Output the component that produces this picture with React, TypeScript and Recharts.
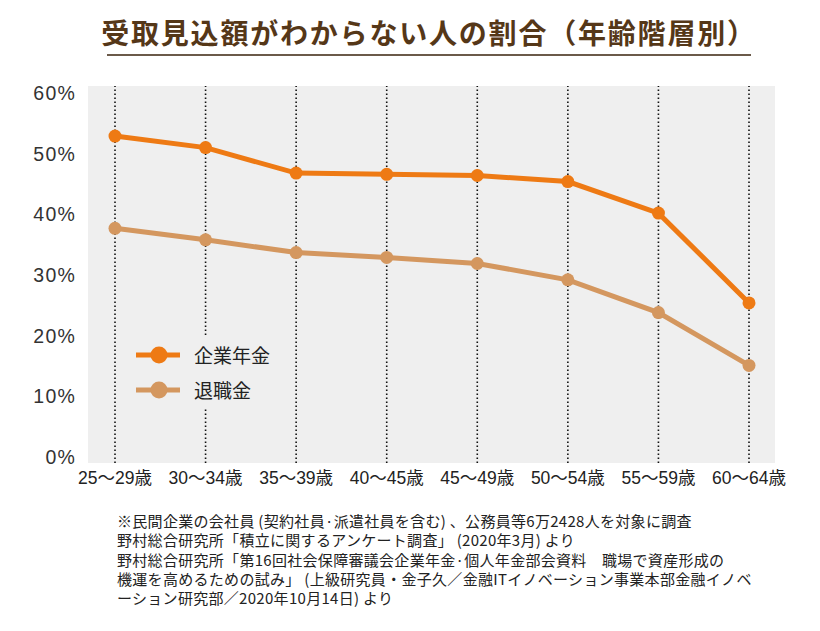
import React from 'react';
import { LineChart, Line, XAxis, YAxis, CartesianGrid, ReferenceLine } from 'recharts';

const categories = ['25～29歳', '30～34歳', '35～39歳', '40～45歳', '45～49歳', '50～54歳', '55～59歳', '60～64歳'];
const corporatePension = [52.9, 51.0, 46.8, 46.6, 46.4, 45.4, 40.2, 25.4];
const retirementAllowance = [37.7, 35.8, 33.7, 32.9, 31.9, 29.2, 23.8, 15.1];
const yTicks = [0, 10, 20, 30, 40, 50, 60];
const seriesNames = ['企業年金', '退職金'];
const footnotes = [
  '※民間企業の会社員 (契約社員·派遣社員を含む) 、公務員等6万2428人を対象に調査',
  '野村総合研究所「積立に関するアンケート調査」 (2020年3月) より',
  '野村総合研究所「第16回社会保障審議会企業年金·個人年金部会資料　職場で資産形成の',
  '機運を高めるための試み」 (上級研究員・金子久／金融ITイノベーション事業本部金融イノベ',
  'ーション研究部／2020年10月14日) より',
];

const data = categories.map((c, i) => ({
  name: c,
  corp: corporatePension[i],
  retire: retirementAllowance[i],
}));

const ORANGE = '#ee7a14';
const TAN = '#d4975f';
const seriesColors = [ORANGE, TAN];
const LATIN = '"Liberation Sans", Arial, "Noto Sans CJK JP", sans-serif';
const CJK = '"Noto Sans CJK JP", sans-serif';

export default function App() {
  return (
    <div style={{ position: 'absolute', left: 0, top: 0, width: 820, height: 631, background: '#fff', overflow: 'hidden' }}>
      <div
        style={{
          position: 'absolute',
          left: 0,
          width: 858,
          top: 12,
          textAlign: 'center',
          fontFamily: CJK,
          fontWeight: 700,
          fontSize: 28,
          lineHeight: '40px',
          color: '#553718',
          letterSpacing: 1.8,
        }}
      >
        受取見込額がわからない人の割合（年齢階層別）
      </div>
      <div style={{ position: 'absolute', left: 107, top: 54, width: 644, height: 2, background: '#6b5a4a' }} />
      <div style={{ position: 'absolute', left: 0, top: 0 }}>
        <LineChart width={820} height={500} data={data} margin={{ top: 86, right: 45, left: 0, bottom: 7 }}>
          <CartesianGrid horizontal={false} vertical={false} fill="#efefef" />
          <XAxis
            dataKey="name"
            height={30}
            padding={{ left: 27, right: 26 }}
            axisLine={false}
            tickLine={false}
            tickSize={0}
            tickMargin={9}
            interval={0}
            tick={{ fontSize: 17.5, fill: '#222', fontFamily: LATIN }}
          />
          <YAxis
            width={88}
            domain={[0, 60]}
            ticks={yTicks}
            padding={{ top: 7, bottom: 6 }}
            axisLine={false}
            tickLine={false}
            tickSize={0}
            tickMargin={12}
            tickFormatter={(v: number) => `${v}%`}
            tick={{ fontSize: 19.5, fill: '#333', fontFamily: LATIN, letterSpacing: 1.2 }}
          />
          {categories.map((c) => (
            <ReferenceLine key={c} x={c} stroke="#111" strokeDasharray="1.6 2.4" strokeWidth={1.6} />
          ))}
          <Line
            type="linear"
            dataKey="corp"
            name={seriesNames[0]}
            stroke={ORANGE}
            strokeWidth={5}
            dot={{ r: 6.5, fill: ORANGE, stroke: 'none' }}
            activeDot={false}
            isAnimationActive={false}
          />
          <Line
            type="linear"
            dataKey="retire"
            name={seriesNames[1]}
            stroke={TAN}
            strokeWidth={5}
            dot={{ r: 6.5, fill: TAN, stroke: 'none' }}
            activeDot={false}
            isAnimationActive={false}
          />
        </LineChart>
      </div>
      <div style={{ position: 'absolute', left: 130, top: 337, width: 156, height: 70, background: '#efefef', paddingLeft: 6, boxSizing: 'border-box' }}>
        {seriesNames.map((name, i) => (
          <div key={name} style={{ display: 'flex', alignItems: 'center', height: 35 }}>
            <svg width={44} height={20} style={{ display: 'block' }}>
              <line x1={0} y1={10} x2={44} y2={10} stroke={seriesColors[i]} strokeWidth={5} />
              <circle cx={23} cy={10} r={8.5} fill={seriesColors[i]} />
            </svg>
            <span style={{ marginLeft: 14, fontSize: 19, color: '#222', fontFamily: CJK, lineHeight: '20px' }}>{name}</span>
          </div>
        ))}
      </div>
      <div
        style={{
          position: 'absolute',
          left: 117,
          top: 511,
          fontFamily: CJK,
          fontSize: 15,
          letterSpacing: 0.3,
          lineHeight: '19.3px',
          color: '#222',
          whiteSpace: 'pre',
        }}
      >
        {footnotes.map((t) => (
          <div key={t}>{t}</div>
        ))}
      </div>
    </div>
  );
}
